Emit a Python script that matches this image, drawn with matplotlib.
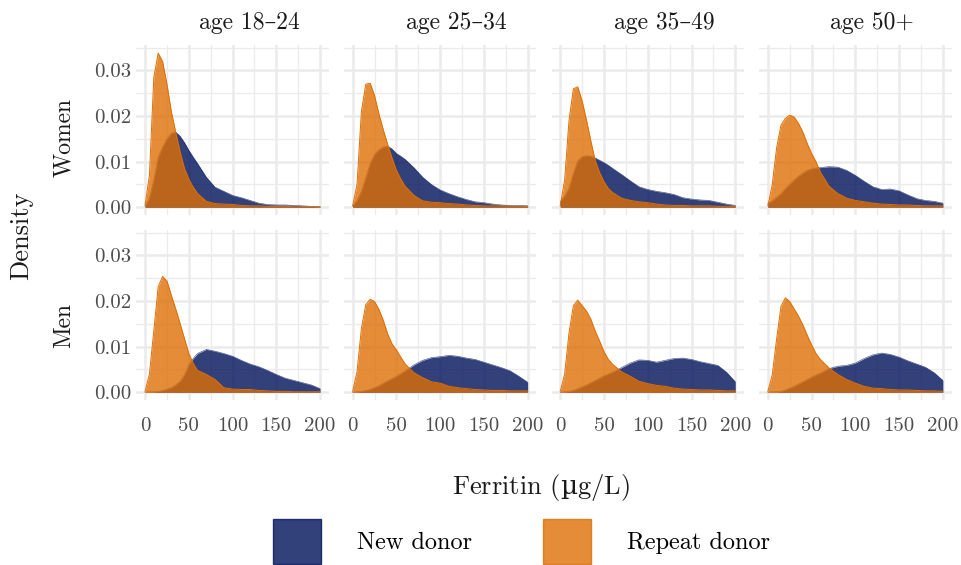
import matplotlib
matplotlib.use("Agg")
import matplotlib.pyplot as plt
from matplotlib.patches import Patch

plt.rcParams['font.family'] = ['cmr10', 'DejaVu Serif']
plt.rcParams['axes.unicode_minus'] = False
# cmr10 has no micro sign, so that one glyph goes through mathtext in DejaVu Serif
plt.rcParams['mathtext.fontset'] = 'custom'
plt.rcParams['mathtext.rm'] = 'DejaVu Serif'

# ferritin grid (ug/L) at which the densities were read
ferritin = [0, 5, 10, 15, 20, 25, 30, 35, 40, 45, 50, 55, 60, 70, 80,
            90, 100, 110, 120, 130, 140, 150, 160, 170, 180, 190, 200]

age_groups = ['age 18–24', 'age 25–34', 'age 35–49', 'age 50+']
sexes = ['Women', 'Men']
donor_types = ['New donor', 'Repeat donor']
x_title = 'Ferritin (µg/L)'
y_title = 'Density'

# Women
women_18_24_new = [0.0002, 0.0020, 0.0060, 0.0110, 0.0132, 0.0150, 0.0162, 0.0165, 0.0156, 0.0142,
                   0.0125, 0.0110, 0.0096, 0.0066, 0.0044, 0.0035, 0.0026, 0.0021, 0.0015, 0.0009,
                   0.0006, 0.0005, 0.0005, 0.0004, 0.0003, 0.0002, 0.0001]
women_18_24_rep = [0.0005, 0.0070, 0.0285, 0.0338, 0.0320, 0.0270, 0.0210, 0.0165, 0.0122, 0.0085,
                   0.0062, 0.0044, 0.0030, 0.0013, 0.0008, 0.0007, 0.0006, 0.0004, 0.0003, 0.0003,
                   0.0002, 0.0002, 0.0002, 0.0001, 0.0001, 0.0001, 0.0001]
women_25_34_new = [0.0003, 0.0015, 0.0035, 0.0065, 0.0096, 0.0116, 0.0126, 0.0132, 0.0134, 0.0128,
                   0.0118, 0.0112, 0.0105, 0.0087, 0.0066, 0.0050, 0.0038, 0.0030, 0.0023, 0.0017,
                   0.0012, 0.0010, 0.0007, 0.0005, 0.0004, 0.0004, 0.0003]
women_25_34_rep = [0.0003, 0.0050, 0.0210, 0.0270, 0.0272, 0.0245, 0.0205, 0.0170, 0.0138, 0.0108,
                   0.0081, 0.0062, 0.0046, 0.0026, 0.0014, 0.0011, 0.0010, 0.0008, 0.0007, 0.0005,
                   0.0004, 0.0003, 0.0003, 0.0003, 0.0002, 0.0002, 0.0002]
women_35_49_new = [0.0012, 0.0025, 0.0042, 0.0075, 0.0102, 0.0111, 0.0113, 0.0112, 0.0108, 0.0103,
                   0.0098, 0.0092, 0.0085, 0.0072, 0.0058, 0.0045, 0.0039, 0.0035, 0.0032, 0.0028,
                   0.0021, 0.0018, 0.0016, 0.0015, 0.0011, 0.0007, 0.0004]
women_35_49_rep = [0.0003, 0.0060, 0.0190, 0.0260, 0.0264, 0.0233, 0.0191, 0.0145, 0.0102, 0.0076,
                   0.0056, 0.0041, 0.0032, 0.0020, 0.0015, 0.0012, 0.0010, 0.0007, 0.0005, 0.0004,
                   0.0004, 0.0003, 0.0003, 0.0003, 0.0002, 0.0002, 0.0002]
women_50_new = [0.0009, 0.0014, 0.0022, 0.0030, 0.0041, 0.0050, 0.0060, 0.0068, 0.0075, 0.0081,
                0.0084, 0.0086, 0.0087, 0.0089, 0.0088, 0.0081, 0.0070, 0.0057, 0.0045, 0.0039,
                0.0040, 0.0036, 0.0027, 0.0019, 0.0015, 0.0013, 0.0009]
women_50_rep = [0.0003, 0.0050, 0.0130, 0.0180, 0.0195, 0.0202, 0.0198, 0.0184, 0.0165, 0.0140,
                0.0118, 0.0100, 0.0077, 0.0046, 0.0030, 0.0020, 0.0015, 0.0012, 0.0009, 0.0007,
                0.0006, 0.0005, 0.0005, 0.0004, 0.0003, 0.0003, 0.0003]

# Men
men_18_24_new = [0.0000, 0.0001, 0.0001, 0.0002, 0.0004, 0.0007, 0.0010, 0.0016, 0.0024, 0.0038,
                 0.0060, 0.0074, 0.0085, 0.0094, 0.0090, 0.0085, 0.0079, 0.0070, 0.0062, 0.0056,
                 0.0048, 0.0039, 0.0031, 0.0026, 0.0021, 0.0016, 0.0008]
men_18_24_rep = [0.0002, 0.0040, 0.0135, 0.0231, 0.0254, 0.0244, 0.0213, 0.0183, 0.0151, 0.0118,
                 0.0085, 0.0063, 0.0048, 0.0039, 0.0028, 0.0010, 0.0007, 0.0006, 0.0006, 0.0004,
                 0.0003, 0.0002, 0.0002, 0.0001, 0.0001, 0.0001, 0.0001]
men_25_34_new = [0.0000, 0.0001, 0.0002, 0.0004, 0.0006, 0.0010, 0.0014, 0.0020, 0.0025, 0.0030,
                 0.0035, 0.0041, 0.0047, 0.0060, 0.0070, 0.0076, 0.0078, 0.0081, 0.0079, 0.0075,
                 0.0072, 0.0066, 0.0060, 0.0054, 0.0047, 0.0035, 0.0022]
men_25_34_rep = [0.0002, 0.0045, 0.0140, 0.0192, 0.0204, 0.0199, 0.0182, 0.0158, 0.0128, 0.0106,
                 0.0093, 0.0077, 0.0062, 0.0043, 0.0032, 0.0023, 0.0020, 0.0013, 0.0010, 0.0008,
                 0.0006, 0.0005, 0.0004, 0.0004, 0.0003, 0.0003, 0.0003]
men_35_49_new = [0.0000, 0.0001, 0.0002, 0.0004, 0.0008, 0.0012, 0.0016, 0.0021, 0.0026, 0.0031,
                 0.0036, 0.0040, 0.0044, 0.0054, 0.0064, 0.0071, 0.0070, 0.0066, 0.0070, 0.0074,
                 0.0075, 0.0072, 0.0067, 0.0063, 0.0059, 0.0044, 0.0023]
men_35_49_rep = [0.0002, 0.0040, 0.0130, 0.0190, 0.0202, 0.0190, 0.0178, 0.0160, 0.0134, 0.0112,
                 0.0089, 0.0072, 0.0061, 0.0045, 0.0035, 0.0024, 0.0019, 0.0015, 0.0013, 0.0009,
                 0.0007, 0.0006, 0.0005, 0.0005, 0.0004, 0.0003, 0.0003]
men_50_new = [0.0000, 0.0001, 0.0001, 0.0002, 0.0005, 0.0009, 0.0013, 0.0018, 0.0023, 0.0028,
              0.0033, 0.0038, 0.0042, 0.0052, 0.0057, 0.0059, 0.0064, 0.0074, 0.0082, 0.0086,
              0.0083, 0.0077, 0.0069, 0.0062, 0.0055, 0.0043, 0.0026]
men_50_rep = [0.0002, 0.0038, 0.0117, 0.0188, 0.0207, 0.0199, 0.0183, 0.0167, 0.0148, 0.0125,
              0.0104, 0.0085, 0.0072, 0.0053, 0.0039, 0.0028, 0.0020, 0.0013, 0.0009, 0.0008,
              0.0006, 0.0005, 0.0005, 0.0004, 0.0003, 0.0003, 0.0002]

panels = {
    ('Women', 0): (women_18_24_new, women_18_24_rep),
    ('Women', 1): (women_25_34_new, women_25_34_rep),
    ('Women', 2): (women_35_49_new, women_35_49_rep),
    ('Women', 3): (women_50_new, women_50_rep),
    ('Men', 0): (men_18_24_new, men_18_24_rep),
    ('Men', 1): (men_25_34_new, men_25_34_rep),
    ('Men', 2): (men_35_49_new, men_35_49_rep),
    ('Men', 3): (men_50_new, men_50_rep),
}

x_ticks = [0, 50, 100, 150, 200]
y_ticks = [0.0, 0.01, 0.02, 0.03]
y_tick_labels = ['0.00', '0.01', '0.02', '0.03']

navy = '#00115A'
orange = '#DE6F05'
grid_col = '#EBEBEB'
text_col = '#1A1A1A'
tick_col = '#4D4D4D'

W, H = 961, 565
fig = plt.figure(figsize=(W / 100, H / 100), dpi=100)

col_left = [136.3, 343.9, 551.5, 759.1]
panel_w = 192.5
row_top = [44.5, 229.5]
panel_h = 170.5

for r, sex in enumerate(sexes):
    for c in range(4):
        ax = fig.add_axes([col_left[c] / W, 1 - (row_top[r] + panel_h) / H,
                           panel_w / W, panel_h / H])
        new, rep = panels[(sex, c)]
        ax.fill_between(ferritin, new, color=navy, alpha=0.8, lw=0, zorder=2)
        ax.plot(ferritin, new, color=navy, lw=0.4, alpha=0.8, zorder=2)
        ax.fill_between(ferritin, rep, color=orange, alpha=0.8, lw=0, zorder=3)
        ax.plot(ferritin, rep, color=orange, lw=0.7, zorder=3)

        ax.set_xlim(-10, 210)
        ax.set_ylim(-0.0017, 0.0357)
        ax.set_xticks(x_ticks)
        ax.set_xticks([25, 75, 125, 175], minor=True)
        ax.set_yticks(y_ticks)
        ax.set_yticks([0.005, 0.015, 0.025, 0.035], minor=True)
        ax.grid(which='major', color=grid_col, lw=1.8, zorder=0)
        ax.grid(which='minor', color=grid_col, lw=0.9, zorder=0)
        ax.set_axisbelow(True)
        for s in ax.spines.values():
            s.set_visible(False)
        ax.tick_params(which='both', length=0, labelsize=15, labelcolor=tick_col)
        ax.tick_params(axis='x', pad=12.5)
        ax.tick_params(axis='y', pad=3.3)

        if c == 0:
            ax.set_yticklabels(y_tick_labels)
        else:
            ax.set_yticklabels([])
        if r == 1:
            ax.set_xticklabels([str(v) for v in x_ticks])
        else:
            ax.set_xticklabels([])

        if r == 0:
            fig.text((col_left[c] + panel_w / 2 + 16.5) / W, 1 - 29.5 / H, age_groups[c],
                     ha='center', va='baseline', fontsize=17, color=text_col)

# row strip labels
fig.text(64 / W, 1 - 137 / H, sexes[0], rotation=90, ha='center', va='center',
         fontsize=17, color=text_col)
fig.text(64 / W, 1 - 325 / H, sexes[1], rotation=90, ha='center', va='center',
         fontsize=17, color=text_col)

fig.text(21 / W, 1 - 236 / H, y_title, rotation=90, ha='center', va='center',
         fontsize=19, color=text_col)
fig.text(541 / W, 1 - 494 / H, x_title.replace('µ', r'$\mathrm{µ}$'),
         ha='center', va='baseline', fontsize=19, color=text_col)

handles = [Patch(facecolor=navy, edgecolor=navy, alpha=0.8),
           Patch(facecolor=orange, edgecolor=orange, alpha=0.8)]
fig.legend(handles, donor_types, loc='center', bbox_to_anchor=(521.5 / W, 1 - 541.5 / H),
           ncol=2, frameon=False, fontsize=17.5, handlelength=1.97, handleheight=2.45,
           handletextpad=1.5, columnspacing=2.92, borderpad=0)

fig.savefig('out.png', dpi=100)
